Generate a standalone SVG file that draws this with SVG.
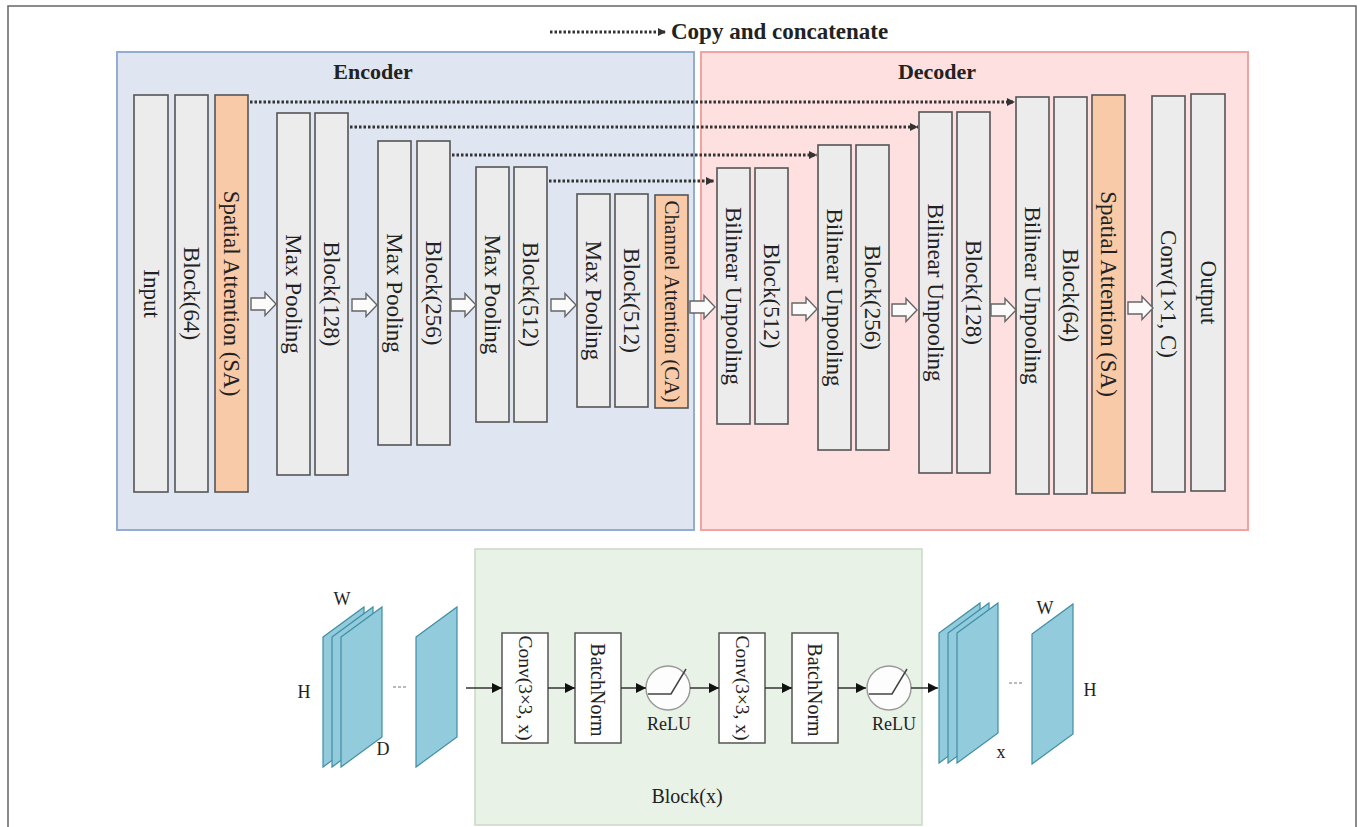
<svg xmlns="http://www.w3.org/2000/svg" width="1363" height="827" viewBox="0 0 1363 827">
<defs>
<style>
.t{font-family:"Liberation Serif","Times New Roman",serif;fill:#222}
.b{font-weight:bold}
.col{fill:#ececec;stroke:#555;stroke-width:1.6}
.sa{fill:#f8caa8;stroke:#555;stroke-width:1.6}
.ct{font-family:"Liberation Serif","Times New Roman",serif;fill:#222;font-size:23px;text-anchor:middle;dominant-baseline:central}
.dot{fill:none;stroke:#333;stroke-width:3;stroke-dasharray:2.5 2}
.ln{fill:none;stroke:#333;stroke-width:1.5}
.sheet{fill:#92cbdb;stroke:#3f8ea6;stroke-width:1.2}
.box{fill:#fff;stroke:#555;stroke-width:1.5}
.fat{fill:#fbfbfb;stroke:#666;stroke-width:1.4}
</style>
<marker id="dh" viewBox="0 0 10 10" refX="10" refY="5" markerWidth="9" markerHeight="8" markerUnits="userSpaceOnUse" orient="auto"><path d="M0,0 L10,5 L0,10 z" fill="#333"/></marker>
<marker id="sh" viewBox="0 0 10 10" refX="10" refY="5" markerWidth="11" markerHeight="10" markerUnits="userSpaceOnUse" orient="auto"><path d="M0,0 L10,5 L0,10 z" fill="#111"/></marker>
<path id="fa" class="fat" d="M0,-6 H14 V-11.5 L25,0 L14,11.5 V6 H0 Z"/>
<path id="sh1" class="sheet" d="M0,30 L41,0 L41,130 L0,160 Z"/>
</defs>

<rect width="1363" height="827" fill="#fff"/>
<path d="M8,830 V6 H1356 V830" fill="none" stroke="#666" stroke-width="1.5"/>

<!-- legend -->
<g id="legend">
<line class="dot" x1="550" y1="32" x2="666" y2="32" marker-end="url(#dh)"/>
<text class="t b" x="671" y="39" font-size="23">Copy and concatenate</text>
</g>

<!-- panels -->
<g id="encoder">
<rect x="117" y="52" width="577" height="478" fill="#dfe6f1" stroke="#92acd2" stroke-width="2"/>
<text class="t b" x="373" y="79" font-size="22" text-anchor="middle">Encoder</text>
</g>
<g id="decoder">
<rect x="701" y="52" width="547" height="478" fill="#fde0df" stroke="#f1a3a0" stroke-width="2"/>
<text class="t b" x="937" y="79" font-size="22" text-anchor="middle">Decoder</text>
</g>

<!-- encoder columns -->
<g id="enc-input"><rect class="col" x="134" y="95" width="34" height="397"/><text class="ct" transform="rotate(90 151 293.5)" x="151" y="293.5">Input</text></g>
<g id="enc-block64"><rect class="col" x="175" y="95" width="33" height="397"/><text class="ct" transform="rotate(90 191.5 293.5)" x="191.5" y="293.5">Block(64)</text></g>
<g id="enc-sa"><rect class="sa" x="215" y="95" width="33" height="397"/><text class="ct" transform="rotate(90 231.5 293.5)" x="231.5" y="293.5">Spatial Attention (SA)</text></g>
<g id="enc-mp1"><rect class="col" x="277" y="113" width="33" height="362"/><text class="ct" transform="rotate(90 293.5 294)" x="293.5" y="294">Max Pooling</text></g>
<g id="enc-block128"><rect class="col" x="315" y="113" width="33" height="362"/><text class="ct" transform="rotate(90 331.5 294)" x="331.5" y="294">Block(128)</text></g>
<g id="enc-mp2"><rect class="col" x="378" y="141" width="33" height="304"/><text class="ct" transform="rotate(90 394.5 293)" x="394.5" y="293">Max Pooling</text></g>
<g id="enc-block256"><rect class="col" x="417" y="141" width="33" height="304"/><text class="ct" transform="rotate(90 433.5 293)" x="433.5" y="293">Block(256)</text></g>
<g id="enc-mp3"><rect class="col" x="476" y="167" width="33" height="255"/><text class="ct" transform="rotate(90 492.5 294.5)" x="492.5" y="294.5">Max Pooling</text></g>
<g id="enc-block512a"><rect class="col" x="514" y="167" width="33" height="255"/><text class="ct" transform="rotate(90 530.5 294.5)" x="530.5" y="294.5">Block(512)</text></g>
<g id="enc-mp4"><rect class="col" x="577" y="194" width="33" height="213"/><text class="ct" transform="rotate(90 593.5 300.5)" x="593.5" y="300.5">Max Pooling</text></g>
<g id="enc-block512b"><rect class="col" x="615" y="194" width="33" height="213"/><text class="ct" transform="rotate(90 631.5 300.5)" x="631.5" y="300.5">Block(512)</text></g>
<g id="enc-ca"><rect class="sa" x="655" y="195" width="33" height="213"/><text class="ct" style="font-size:21px" transform="rotate(90 671.5 301.5)" x="671.5" y="301.5">Channel Attention (CA)</text></g>

<!-- decoder columns -->
<g id="dec-up1"><rect class="col" x="717" y="168" width="33" height="256"/><text class="ct" transform="rotate(90 733.5 296)" x="733.5" y="296">Bilinear Unpooling</text></g>
<g id="dec-block512"><rect class="col" x="755" y="168" width="33" height="256"/><text class="ct" transform="rotate(90 771.5 296)" x="771.5" y="296">Block(512)</text></g>
<g id="dec-up2"><rect class="col" x="818" y="145" width="33" height="305"/><text class="ct" transform="rotate(90 834.5 297.5)" x="834.5" y="297.5">Bilinear Unpooling</text></g>
<g id="dec-block256"><rect class="col" x="856" y="145" width="33" height="305"/><text class="ct" transform="rotate(90 872.5 297.5)" x="872.5" y="297.5">Block(256)</text></g>
<g id="dec-up3"><rect class="col" x="919" y="112" width="33" height="361"/><text class="ct" transform="rotate(90 935.5 292.5)" x="935.5" y="292.5">Bilinear Unpooling</text></g>
<g id="dec-block128"><rect class="col" x="957" y="112" width="33" height="361"/><text class="ct" transform="rotate(90 973.5 292.5)" x="973.5" y="292.5">Block(128)</text></g>
<g id="dec-up4"><rect class="col" x="1016" y="97" width="33" height="397"/><text class="ct" transform="rotate(90 1032.5 295.5)" x="1032.5" y="295.5">Bilinear Unpooling</text></g>
<g id="dec-block64"><rect class="col" x="1054" y="97" width="33" height="397"/><text class="ct" transform="rotate(90 1070.5 295.5)" x="1070.5" y="295.5">Block(64)</text></g>
<g id="dec-sa"><rect class="sa" x="1092" y="95" width="33" height="398"/><text class="ct" transform="rotate(90 1108.5 294)" x="1108.5" y="294">Spatial Attention (SA)</text></g>
<g id="dec-conv"><rect class="col" x="1152" y="96" width="33" height="396"/><text class="ct" transform="rotate(90 1168.5 294)" x="1168.5" y="294">Conv(1×1, C)</text></g>
<g id="dec-output"><rect class="col" x="1191" y="94" width="34" height="397"/><text class="ct" transform="rotate(90 1208 292.5)" x="1208" y="292.5">Output</text></g>

<!-- block(x) detail -->
<g id="block-panel">
<rect x="475" y="549" width="447" height="276" fill="#e9f2e6" stroke="#c9dac5" stroke-width="1.5"/>
<text class="t" x="687" y="803" font-size="20" text-anchor="middle">Block(x)</text>
</g>
<g id="conv1"><rect class="box" x="502" y="633" width="46" height="110"/><text class="ct" style="font-size:19.5px" transform="rotate(90 525 688)" x="525" y="688">Conv(3×3, x)</text></g>
<g id="bn1"><rect class="box" x="575" y="633" width="46" height="110"/><text class="ct" style="font-size:20px" transform="rotate(90 598 690)" x="598" y="690">BatchNorm</text></g>
<g id="relu1">
<circle cx="668" cy="688" r="22" fill="#fdfdfd" stroke="#999" stroke-width="1.4"/>
<path d="M648,694 H671 L686,669" fill="none" stroke="#444" stroke-width="1.5"/>
<text class="t" x="669" y="730" font-size="18" text-anchor="middle">ReLU</text>
</g>
<g id="conv2"><rect class="box" x="719" y="633" width="46" height="110"/><text class="ct" style="font-size:19.5px" transform="rotate(90 742 688)" x="742" y="688">Conv(3×3, x)</text></g>
<g id="bn2"><rect class="box" x="792" y="633" width="46" height="110"/><text class="ct" style="font-size:20px" transform="rotate(90 815 690)" x="815" y="690">BatchNorm</text></g>
<g id="relu2">
<circle cx="889" cy="688" r="22" fill="#fdfdfd" stroke="#999" stroke-width="1.4"/>
<path d="M869,694 H892 L907,669" fill="none" stroke="#444" stroke-width="1.5"/>
<text class="t" x="894" y="730" font-size="18" text-anchor="middle">ReLU</text>
</g>

<!-- input feature maps -->
<g id="input-maps">
<use href="#sh1" x="323" y="607"/>
<use href="#sh1" x="332" y="607"/>
<use href="#sh1" x="341" y="607"/>
<line x1="393" y1="687" x2="408" y2="687" stroke="#777" stroke-width="1.2" stroke-dasharray="3 2"/>
<use href="#sh1" x="416" y="607"/>
<text class="t" x="342" y="605" font-size="18" text-anchor="middle">W</text>
<text class="t" x="304" y="698" font-size="18" text-anchor="middle">H</text>
<text class="t" x="383" y="755" font-size="18" text-anchor="middle">D</text>
</g>

<!-- output feature maps -->
<g id="output-maps">
<use href="#sh1" x="939" y="603"/>
<use href="#sh1" x="948" y="603"/>
<use href="#sh1" x="957" y="603"/>
<line x1="1009" y1="683" x2="1024" y2="683" stroke="#777" stroke-width="1.2" stroke-dasharray="3 2"/>
<use href="#sh1" x="1032" y="604"/>
<text class="t" x="1001" y="758" font-size="18" text-anchor="middle">x</text>
<text class="t" x="1045" y="614" font-size="18" text-anchor="middle">W</text>
<text class="t" x="1090" y="696" font-size="18" text-anchor="middle">H</text>
</g>

<!-- connectors -->
<g id="connectors">
<line class="dot" x1="250" y1="102" x2="1015" y2="102" marker-end="url(#dh)"/>
<line class="dot" x1="350" y1="127" x2="918" y2="127" marker-end="url(#dh)"/>
<line class="dot" x1="452" y1="155" x2="817" y2="155" marker-end="url(#dh)"/>
<line class="dot" x1="549" y1="181" x2="714" y2="181" marker-end="url(#dh)"/>
<use href="#fa" x="251" y="304"/>
<use href="#fa" x="352" y="305"/>
<use href="#fa" x="451" y="305"/>
<use href="#fa" x="551" y="305"/>
<use href="#fa" x="690" y="307"/>
<use href="#fa" x="792" y="309"/>
<use href="#fa" x="892" y="310"/>
<use href="#fa" x="991" y="310"/>
<use href="#fa" x="1128" y="308"/>
<line class="ln" x1="466" y1="688" x2="502" y2="688" marker-end="url(#sh)"/>
<line class="ln" x1="548" y1="688" x2="575" y2="688" marker-end="url(#sh)"/>
<line class="ln" x1="621" y1="688" x2="646" y2="688" marker-end="url(#sh)"/>
<line class="ln" x1="690" y1="688" x2="719" y2="688" marker-end="url(#sh)"/>
<line class="ln" x1="765" y1="688" x2="792" y2="688" marker-end="url(#sh)"/>
<line class="ln" x1="838" y1="688" x2="866" y2="688" marker-end="url(#sh)"/>
<line class="ln" x1="911" y1="688" x2="938" y2="688" marker-end="url(#sh)"/>
</g>
</svg>
